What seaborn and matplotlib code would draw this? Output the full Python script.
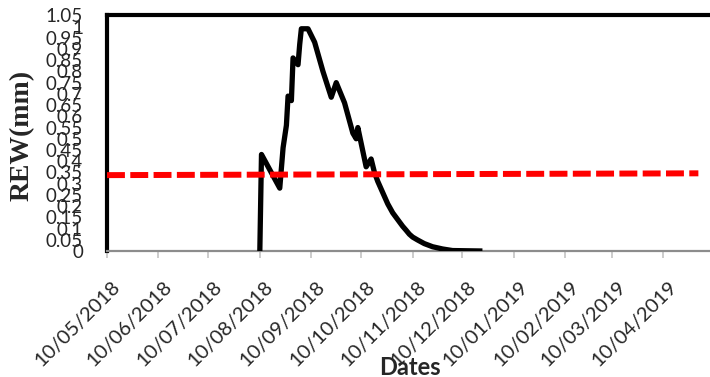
import numpy as np
import pandas as pd
import matplotlib
matplotlib.use("Agg")
import matplotlib.pyplot as plt
import seaborn as sns
from matplotlib.transforms import ScaledTranslation
from matplotlib.textpath import TextPath
from matplotlib.font_manager import FontProperties

# ---- data ----
dates = ["2018-08-10", "2018-08-11", "2018-08-22", "2018-08-24", "2018-08-26",
         "2018-08-27", "2018-08-29", "2018-08-30", "2018-09-02", "2018-09-03",
         "2018-09-04", "2018-09-08", "2018-09-12", "2018-09-17", "2018-09-22",
         "2018-09-25", "2018-09-30", "2018-10-05", "2018-10-07", "2018-10-08",
         "2018-10-13", "2018-10-16", "2018-10-18", "2018-10-20", "2018-10-23",
         "2018-10-26", "2018-10-29", "2018-11-02", "2018-11-04", "2018-11-06",
         "2018-11-08", "2018-11-10", "2018-11-13", "2018-11-17", "2018-11-22",
         "2018-11-28", "2018-12-04", "2018-12-22"]
rew = [0.0, 0.43, 0.28, 0.46, 0.56,
       0.69, 0.67, 0.86, 0.83, 0.92,
       0.99, 0.99, 0.93, 0.80, 0.685,
       0.75, 0.66, 0.525, 0.50, 0.55,
       0.375, 0.41, 0.35, 0.31, 0.26,
       0.21, 0.17, 0.13, 0.11, 0.093,
       0.075, 0.062, 0.049, 0.033, 0.019,
       0.009, 0.002, 0.0]
thr_dates = ["2018-05-10", "2019-05-01"]
thr_values = [0.338, 0.346]
tick_dates = ["2018-05-10", "2018-06-10", "2018-07-10", "2018-08-10", "2018-09-10",
              "2018-10-10", "2018-11-10", "2018-12-10", "2019-01-10", "2019-02-10",
              "2019-03-10", "2019-04-10"]
y_ticks = [round(0.05 * i, 2) for i in range(22)]
x_start, x_end = "2018-05-10", "2019-05-08"

df = pd.DataFrame({"date": pd.to_datetime(dates), "rew": rew})
thr = pd.DataFrame({"date": pd.to_datetime(thr_dates), "rew": thr_values})

sns.set_style("white")
plt.rcParams["font.family"] = ["Lato", "DejaVu Sans"]
DPI = 100
PX = DPI / 72.0

fig = plt.figure(figsize=(7.10, 3.77), dpi=DPI)
ax = fig.add_axes([107 / 710, 1 - 251 / 377, 603 / 710, (251 - 15.3) / 377])

sns.lineplot(data=df, x="date", y="rew", ax=ax, color="black", linewidth=3.8,
             solid_joinstyle="round", solid_capstyle="butt", zorder=3)
sns.lineplot(data=thr, x="date", y="rew", ax=ax, color="#FF0000", linewidth=4.3,
             zorder=4)
ax.lines[-1].set_linestyle((0, (3.0, 0.9)))
ax.lines[-1].set_dash_capstyle("butt")

ax.set_xlim(pd.Timestamp(x_start), pd.Timestamp(x_end))
ax.set_ylim(0, 1.05)

ax.set_yticks(y_ticks)
ax.set_yticklabels([f"{v:g}" for v in y_ticks], fontsize=13.5)
ax.tick_params(axis="y", length=0, pad=17.3)

# --- x tick labels: size/placement measured from glyph outlines ---
ticks = pd.to_datetime(tick_dates)
labels = [t.strftime("%d/%m/%Y") for t in ticks]
ref_size = 10.0
ext = TextPath((0, 0), labels[0], prop=FontProperties(family="Lato", size=ref_size)).get_extents()
w_per_pt = ext.width / ref_size * PX      # px per point of font size
h_per_pt = ext.y1 / ref_size * PX
target_span = 88.0                          # visible horizontal span of a rotated label (px)
xfs = target_span / (0.7071 * (w_per_pt + h_per_pt))
cap_px = h_per_pt * xfs
dx_px = 4.0 + 0.7071 * cap_px
dy_px = 26.0 + 0.7071 * cap_px
tick_len = 5.0

ax.set_xticks(ticks)
ax.set_xticklabels(labels, fontsize=xfs, rotation=45, ha="right", va="baseline",
                   rotation_mode="anchor")
ax.tick_params(axis="x", length=tick_len, width=1.1, color="#BFBFBF",
               direction="out", pad=dy_px / PX - tick_len, bottom=True)
off = ScaledTranslation(dx_px / DPI, 0, fig.dpi_scale_trans)
for lab in ax.get_xticklabels():
    lab.set_transform(lab.get_transform() + off)

for s in ["left", "top"]:
    ax.spines[s].set_color("black")
    ax.spines[s].set_linewidth(3.0)
ax.spines["right"].set_visible(False)
ax.spines["bottom"].set_color("#8C8C8C")
ax.spines["bottom"].set_linewidth(1.6)

ax.set_ylabel("REW(mm)", fontsize=20, fontweight="bold",
              family=["Liberation Serif", "DejaVu Serif"])
ax.yaxis.set_label_coords((22 - 107) / 603, 0.49)
ax.yaxis.label.set_va("center")

ax.set_xlabel("Dates", fontsize=17, fontweight="bold")
ax.xaxis.set_label_coords((410 - 107) / 603, (251 - 375) / 235.7)
ax.xaxis.label.set_va("baseline")

ax.grid(False)
fig.savefig("out.png", dpi=DPI)
